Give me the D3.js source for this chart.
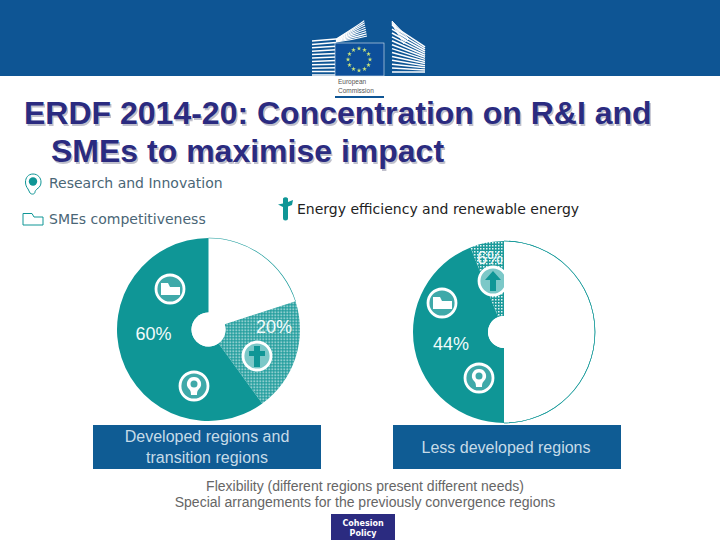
<!DOCTYPE html>
<html><head><meta charset="utf-8">
<script src="https://cdn.jsdelivr.net/npm/d3@7"></script>
<style>html,body{margin:0;padding:0;background:#fff}svg{display:block}</style>
</head><body><div id="c"></div>
<script>
const titleLines = ["ERDF 2014-20: Concentration on R&I and", "SMEs to maximise impact"];
const legendLabels = ["Research and Innovation", "SMEs competitiveness", "Energy efficiency and renewable energy"];
const developedCategories = ["Other", "Energy", "R&I and SMEs"];
const developedValues = [20, 20, 60];
const lessDevelopedCategories = ["Other", "R&I and SMEs", "Energy"];
const lessDevelopedValues = [50, 44, 6];
const chartNames = [["Developed regions and", "transition regions"], ["Less developed regions"]];
const footerLines = ["Flexibility (different regions present different needs)", "Special arrangements for the previously convergence regions"];
const badgeLines = ["Cohesion", "Policy"];

const TEAL = "#0f9696", BLUE = "#0f5c94", HEAD = "#0e5594", NAVY = "#2b2b80";
const svg = d3.select("#c").append("svg").attr("width", 720).attr("height", 540);
const defs = svg.append("defs");
const pat = defs.append("pattern").attr("id", "dots").attr("patternUnits", "userSpaceOnUse").attr("width", 3).attr("height", 3);
pat.append("rect").attr("width", 3).attr("height", 3).attr("fill", "#1b9a9a");
pat.append("rect").attr("width", 1.5).attr("height", 1.5).attr("fill", "#e6f4f4");
const f = defs.append("filter").attr("id", "soft").attr("x", "-5%").attr("y", "-20%").attr("width", "110%").attr("height", "140%");
f.append("feGaussianBlur").attr("stdDeviation", 0.7);

// Header band and logo
svg.append("rect").attr("width", 720).attr("height", 76).attr("fill", HEAD);
const logo = svg.append("g");
logo.selectAll(".ls").data(d3.range(0, 11)).join("path")
  .attr("d", i => `M312 ${75 - i * 3.4}L336 ${75 - i * 3.4 - i * 0.2}`)
  .attr("stroke", "#fff").attr("stroke-width", 1.5).attr("fill", "none");
logo.selectAll(".lt").data(d3.range(0, 8)).join("path")
  .attr("d", i => `M336 ${42 - i * 0.4}Q${352 + i * 1.5} ${40 - i * 2.5} ${367 - i * 0.4} ${36 - i * 2.2}`)
  .attr("stroke", "#fff").attr("stroke-width", 1.2).attr("fill", "none");
logo.selectAll(".rs").data(d3.range(0, 13)).join("path")
  .attr("d", i => `M392 ${72 - i * 3.9}L425 ${72 - i * 2.1}`)
  .attr("stroke", "#fff").attr("stroke-width", 1.5).attr("fill", "none");
logo.selectAll(".rt").data(d3.range(0, 6)).join("path")
  .attr("d", i => `M392 ${24 - i * 0.6}L${404 + i} ${44 - i}`)
  .attr("stroke", "#fff").attr("stroke-width", 1).attr("fill", "none");
logo.append("rect").attr("x", 335).attr("y", 43).attr("width", 49).attr("height", 33).attr("fill", "#0d4f9a").attr("stroke", "#dfe9f2").attr("stroke-width", 0.6);
logo.selectAll(".star").data(d3.range(12)).join("path")
  .attr("d", d3.symbol(d3.symbolStar, 7))
  .attr("transform", i => { const [x, y] = d3.pointRadial(i * Math.PI / 6, 11); return `translate(${359 + x},${59.5 + y})`; })
  .attr("fill", "#c8e27a");
logo.append("text").attr("x", 338).attr("y", 84).text("European");
logo.append("text").attr("x", 338).attr("y", 93).text("Commission");
logo.selectAll("text").attr("font-family", "Liberation Sans").attr("font-size", 6.5).attr("fill", "#555");
logo.append("rect").attr("x", 335).attr("y", 96).attr("width", 49).attr("height", 2).attr("fill", HEAD);

// Title with soft shadow
const titleX = [24, 51], titleY = [124, 162];
titleLines.forEach((t, i) => {
  svg.append("text").attr("x", titleX[i] + 1.5).attr("y", titleY[i] + 1.5).text(t)
    .attr("font-family", "Liberation Sans").attr("font-weight", "bold").attr("font-size", 32).attr("fill", "#c0c0cc").attr("filter", "url(#soft)");
  svg.append("text").attr("x", titleX[i]).attr("y", titleY[i]).text(t)
    .attr("font-family", "Liberation Sans").attr("font-weight", "bold").attr("font-size", 32).attr("fill", NAVY);
});

// Legend
const legendX = [49, 49, 297], legendY = [188, 224, 214], legendFill = ["#4a6676", "#4a6676", "#222"];
legendLabels.forEach((t, i) => svg.append("text").attr("x", legendX[i]).attr("y", legendY[i]).text(t)
  .attr("font-family", "DejaVu Sans").attr("font-size", 14).attr("fill", legendFill[i]));

svg.append("path").attr("d", "M33 174c-5 0-7.500 4-7.500 8 0 3 1 5 2.500 7 1 1 1 3 2 4 2 2 5 1 5-1 0-1 1-2 2-3 3-2 4-4 4-7 0-4-3-8-8-8z")
  .attr("fill", "none").attr("stroke", TEAL).attr("stroke-width", 1);
svg.append("circle").attr("cx", 33).attr("cy", 181.500).attr("r", 4.2).attr("fill", TEAL);
svg.append("path").attr("d", "M23 225V213.500H32L34 217H43V225Z").attr("fill", "none").attr("stroke", TEAL).attr("stroke-width", 1);
svg.append("path").attr("d", "M283 198.500a3 3 0 0 1 5 0v3.500l5-2-1 5-4 1.500V218a2.500 2.500 0 0 1-5 0v-11l-5-2.500 5-1z").attr("fill", TEAL);

// Pies
const pie = d3.pie().sort(null).value(d => d);
const fills = d3.scaleOrdinal().domain(["Other", "Energy", "R&I and SMEs"]).range(["#ffffff", "url(#dots)", TEAL]);

function drawPie(values, cats, cx, cy, R, r) {
  const g = svg.append("g").attr("transform", `translate(${cx},${cy})`);
  const arcs = pie(values);
  g.selectAll("path").data(arcs).join("path")
    .attr("d", d3.arc().innerRadius(r).outerRadius(R))
    .attr("fill", (d, i) => fills(cats[i]));
  g.append("path").datum(arcs[0]).attr("d", d3.arc().innerRadius(R - 0.3).outerRadius(R + 0.3)).attr("fill", TEAL);
  g.append("circle").attr("r", r).attr("fill", "#fff");
}
drawPie(developedValues, developedCategories, 208.5, 329.5, 91.5, 17);
drawPie(lessDevelopedValues, lessDevelopedCategories, 504, 332, 91, 16);

// Icon badges
function badge(x, y, kind) {
  const g = svg.append("g").attr("transform", `translate(${x},${y})`);
  g.append("circle").attr("r", 14).attr("fill", kind === "cross" || kind === "arrow" ? "#7cc8c8" : "#3fa9a9").attr("stroke", "#fff").attr("stroke-width", 2.8);
  if (kind === "folder") {
    g.append("path").attr("d", "M-9 6V-6H-2L0 -2H10V6Z").attr("fill", "#fff");
  } else if (kind === "bulb") {
    g.append("path").attr("d", "M0 -9a7 7 0 0 1 5 12c-1 1-2 2-2 6h-6c0-4-1-5-2-6a7 7 0 0 1 5-12z").attr("fill", "#fff");
    g.append("circle").attr("cy", -2).attr("r", 3.5).attr("fill", "#3fa9a9");
  } else if (kind === "cross") {
    g.append("path").attr("d", "M-3 -10H3V-5H8V0H3V11H-3V0H-8V-5H-3Z").attr("fill", TEAL);
  } else {
    g.append("path").attr("d", "M0 -10L8 -1H3V10H-3V-1H-8Z").attr("fill", TEAL);
  }
}
badge(170, 289, "folder"); badge(257, 356, "cross"); badge(194, 386, "bulb");
badge(493, 281, "arrow"); badge(442, 303, "folder"); badge(479, 378, "bulb");
// the arrow badge is cut at the white half of the pie
svg.append("rect").attr("x", 504).attr("y", 262).attr("width", 12).attr("height", 40).attr("fill", "#fff");
svg.append("path").datum(pie(lessDevelopedValues)[0]).attr("transform", "translate(504,332)")
  .attr("d", d3.arc().innerRadius(90.700).outerRadius(91.300)).attr("fill", TEAL);

// Pie value labels
function pct(v, x, y) {
  svg.append("text").attr("x", x).attr("y", y).attr("text-anchor", "middle").text(v + "%")
    .attr("font-family", "Liberation Sans").attr("font-size", 18).attr("fill", "#f2fbfb");
}
pct(developedValues[2], 153.500, 340); pct(developedValues[1], 274, 333);
pct(lessDevelopedValues[2], 490, 264); pct(lessDevelopedValues[1], 451, 350);

// Region boxes
const boxX = [93, 393];
chartNames.forEach((lines, i) => {
  svg.append("rect").attr("x", boxX[i]).attr("y", 425).attr("width", 228).attr("height", 44).attr("fill", BLUE);
  lines.forEach((t, j) => svg.append("text").attr("x", boxX[i] + (i ? 113 : 114))
    .attr("y", lines.length === 1 ? 453 : 442 + j * 20.500).attr("text-anchor", "middle").text(t)
    .attr("font-family", "Liberation Sans").attr("font-size", 16).attr("fill", "#c6dbe8"));
});

// Footer
footerLines.forEach((t, i) => svg.append("text").attr("x", 365).attr("y", 491 + i * 16).attr("text-anchor", "middle").text(t)
  .attr("font-family", "Liberation Sans").attr("font-size", 14).attr("fill", "#666"));
svg.append("rect").attr("x", 331).attr("y", 514).attr("width", 64).attr("height", 26).attr("fill", NAVY);
badgeLines.forEach((t, i) => svg.append("text").attr("x", 363).attr("y", 526 + i * 10).attr("text-anchor", "middle").text(t)
  .attr("font-family", "DejaVu Sans").attr("font-weight", "bold").attr("font-size", 8).attr("fill", "#fff"));
</script></body></html>
